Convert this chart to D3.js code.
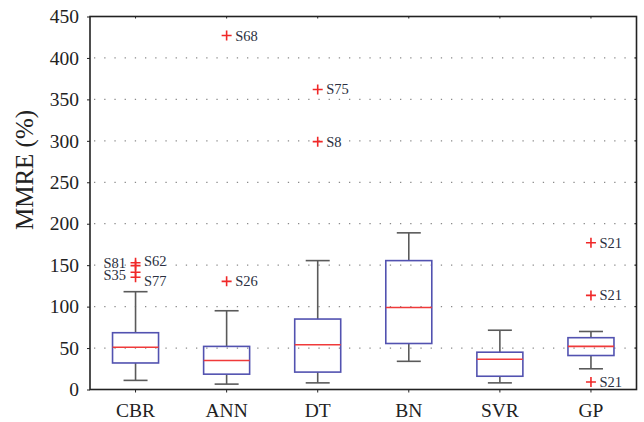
<!DOCTYPE html>
<html>
<head>
<meta charset="utf-8">
<script src="https://cdn.jsdelivr.net/npm/d3@7/dist/d3.min.js"></script>
<style>
  body { margin: 0; background: #fff; }
  svg { display: block; font-family: "Liberation Serif", "DejaVu Serif", serif; }
</style>
</head>
<body>
<div id="chart"></div>
<script>
// data

const methods = ['CBR', 'ANN', 'DT', 'BN', 'SVR', 'GP']

// five-number summaries: whisker low, q1, median, q3, whisker high
const whiskerLow  = [11, 6.5, 8, 34, 8, 25]
const q1          = [32, 18.5, 21, 55.5, 16, 41]
const medians     = [51, 35, 54, 99, 36.5, 52]
const q3          = [68.5, 52, 85, 155.5, 45, 62.5]
const whiskerHigh = [118, 95, 155.5, 189, 71.5, 70]

// outliers: [method, value, label]
const outliers = [
  ['CBR', 153, 'S62'],
  ['CBR', 149.5, 'S81'],
  ['CBR', 141.5, 'S35'],
  ['CBR', 135.5, 'S77'],
  ['ANN', 130.5, 'S26'],
  ['ANN', 427, 'S68'],
  ['DT', 362, 'S75'],
  ['DT', 299, 'S8'],
  ['GP', 177, 'S21'],
  ['GP', 113.5, 'S21'],
  ['GP', 9, 'S21']
]

const yTicks = [0, 50, 100, 150, 200, 250, 300, 350, 400, 450]

// label placement for the crowded CBR cluster (layout only)
const labelLayout = {
  'S81': { side: 'left', dy: -3 },
  'S35': { side: 'left', dy: 2.5 },
  'S62': { side: 'right', dy: -2 },
  'S77': { side: 'right', dy: 3.5 }
}

const W = 644, H = 422
const M = { top: 16.5, left: 90, right: 7.5, bottom: 32.5 }
const iw = W - M.left - M.right
const ih = H - M.top - M.bottom

const svg = d3.select('#chart').append('svg')
  .attr('width', W).attr('height', H)

const x = d3.scaleBand().domain(methods).range([0, iw])
const y = d3.scaleLinear().domain([0, 450]).range([ih, 0])

const g = svg.append('g').attr('transform', 'translate(' + [M.left, M.top] + ')')

// dotted grid
g.append('g')
  .selectAll('line')
  .data(yTicks.filter(d => d > 0 && d < 450))
  .join('line')
    .attr('x1', 0).attr('x2', iw)
    .attr('y1', d => y(d)).attr('y2', d => y(d))
    .attr('stroke', '#8a8a8a')
    .attr('stroke-width', 1.3)
    .attr('stroke-dasharray', '1.3,8.9')
    .attr('stroke-dashoffset', -4)

// boxes
const boxW = 46, capW = 24
const stats = methods.map((m, i) => ({
  m, lo: whiskerLow[i], q1: q1[i], med: medians[i], q3: q3[i], hi: whiskerHigh[i]
}))

const box = g.append('g').selectAll('g')
  .data(stats)
  .join('g')
    .attr('transform', d => 'translate(' + (x(d.m) + x.bandwidth() / 2) + ',0)')

box.append('line')
  .attr('y1', d => y(d.q3)).attr('y2', d => y(d.hi))
  .attr('stroke', '#5a5a5a').attr('stroke-width', 1.6)
box.append('line')
  .attr('y1', d => y(d.q1)).attr('y2', d => y(d.lo))
  .attr('stroke', '#5a5a5a').attr('stroke-width', 1.6)
box.append('line')
  .attr('x1', -capW / 2).attr('x2', capW / 2)
  .attr('y1', d => y(d.hi)).attr('y2', d => y(d.hi))
  .attr('stroke', '#5a5a5a').attr('stroke-width', 1.6)
box.append('line')
  .attr('x1', -capW / 2).attr('x2', capW / 2)
  .attr('y1', d => y(d.lo)).attr('y2', d => y(d.lo))
  .attr('stroke', '#5a5a5a').attr('stroke-width', 1.6)
box.append('rect')
  .attr('x', -boxW / 2).attr('width', boxW)
  .attr('y', d => y(d.q3)).attr('height', d => y(d.q1) - y(d.q3))
  .attr('fill', 'none').attr('stroke', '#5252b0').attr('stroke-width', 1.6)
box.append('line')
  .attr('x1', -boxW / 2).attr('x2', boxW / 2)
  .attr('y1', d => y(d.med)).attr('y2', d => y(d.med))
  .attr('stroke', '#f03a3a').attr('stroke-width', 1.6)

// outliers
const out = g.append('g').selectAll('g')
  .data(outliers)
  .join('g')
    .attr('transform', d => 'translate(' + (x(d[0]) + x.bandwidth() / 2) + ',' + y(d[1]) + ')')

out.append('path')
  .attr('d', 'M-5,0H5M0,-5V5')
  .attr('stroke', '#f02828').attr('stroke-width', 1.6)

out.append('text')
  .attr('x', d => (labelLayout[d[2]] || {}).side === 'left' ? -9.5 : 8.5)
  .attr('dy', d => ((labelLayout[d[2]] || {}).dy || 0) + 5)
  .attr('text-anchor', d => (labelLayout[d[2]] || {}).side === 'left' ? 'end' : 'start')
  .attr('font-size', 14.5)
  .attr('fill', '#2a2f40')
  .text(d => d[2])

// frame and axes
g.append('rect')
  .attr('width', iw).attr('height', ih)
  .attr('fill', 'none').attr('stroke', '#222').attr('stroke-width', 1.6)

const yAxis = g.append('g')
  .call(d3.axisLeft(y).tickValues(yTicks).tickSize(3).tickPadding(8))
yAxis.select('.domain').remove()
yAxis.selectAll('line').attr('stroke', '#222')
yAxis.selectAll('text')
  .attr('font-size', 19.5).attr('fill', '#222')
  .attr('font-family', '"Liberation Serif", serif')

const xAxis = g.append('g')
  .attr('transform', 'translate(0,' + ih + ')')
  .call(d3.axisBottom(x).tickSize(3).tickPadding(11))
xAxis.select('.domain').remove()
xAxis.selectAll('line').attr('stroke', '#222')
xAxis.selectAll('text')
  .attr('font-size', 19.5).attr('fill', '#222')
  .attr('font-family', '"Liberation Serif", serif')

// inner ticks on the top and right edges
g.append('g').selectAll('line')
  .data(methods)
  .join('line')
    .attr('x1', d => x(d) + x.bandwidth() / 2).attr('x2', d => x(d) + x.bandwidth() / 2)
    .attr('y1', 0).attr('y2', 2)
    .attr('stroke', '#222')
g.append('g').selectAll('line')
  .data(yTicks.filter(d => d > 0 && d < 450))
  .join('line')
    .attr('x1', iw - 2).attr('x2', iw)
    .attr('y1', d => y(d)).attr('y2', d => y(d))
    .attr('stroke', '#222')

svg.append('text')
  .attr('transform', 'translate(33,170) rotate(-90)')
  .attr('text-anchor', 'middle')
  .attr('font-size', 25)
  .attr('fill', '#222')
  .text('MMRE (%)')
</script>
</body>
</html>
